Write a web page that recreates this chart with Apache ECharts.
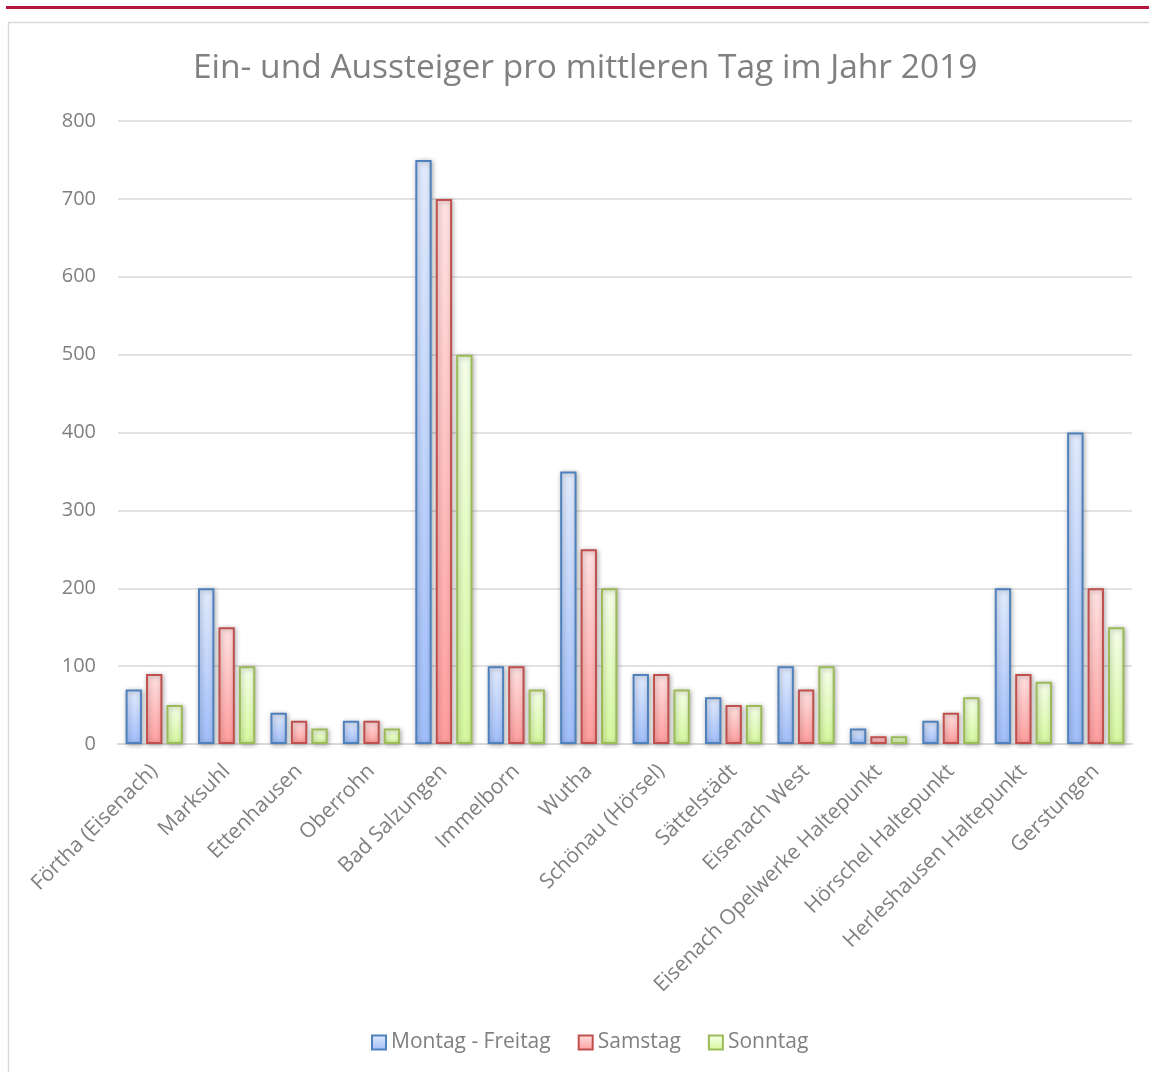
<!DOCTYPE html>
<html><head><meta charset="utf-8">
<script src="https://cdn.jsdelivr.net/npm/echarts@6/dist/echarts.min.js"></script>
<style>html,body{margin:0;padding:0;background:#fff}#c{width:1149px;height:1072px}</style>
</head><body><div id="c"></div>
<script>
const categories = ["Förtha (Eisenach)","Marksuhl","Ettenhausen","Oberrohn","Bad Salzungen","Immelborn","Wutha","Schönau (Hörsel)","Sättelstädt","Eisenach West","Eisenach Opelwerke Haltepunkt","Hörschel Haltepunkt","Herleshausen Haltepunkt","Gerstungen"];
const montagFreitag = [70,200,40,30,750,100,350,90,60,100,20,30,200,400];
const samstag = [90,150,30,30,700,100,250,90,50,70,10,40,90,200];
const sonntag = [50,100,20,20,500,70,200,70,50,100,10,60,80,150];
const seriesNames = ["Montag - Freitag","Samstag","Sonntag"];
const yTicks = [0,100,200,300,400,500,600,700,800];

const FONT = "'Open Sans', 'Noto Sans', sans-serif";
function grad(top, bottom){
  return new echarts.graphic.LinearGradient(0,0,0,1,[{offset:0,color:top},{offset:1,color:bottom}]);
}
const styles = [
  {border:'#4f81bd', top:'#e2ebfd', bottom:'#a0befa'},
  {border:'#c0504d', top:'#ffe2e2', bottom:'#ff9d9d'},
  {border:'#9bbb59', top:'#f5ffe9', bottom:'#d6f89e'}
];
const data = [montagFreitag, samstag, sonntag];
const chart = echarts.init(document.getElementById('c'));
chart.setOption({
  animation:false,
  backgroundColor:'#fff',
  title:{text:'Ein- und Aussteiger pro mittleren Tag im Jahr 2019', left:188, top:46,
    textStyle:{fontFamily:FONT, fontSize:33.5, fontWeight:'normal', color:'#808080'}},
  legend:{bottom:14, left:366, itemWidth:14, itemHeight:14, itemGap:27,
    textStyle:{fontFamily:FONT, fontSize:21, color:'#808080'}, icon:'rect',
    data: seriesNames.map((n,i)=>({name:n, itemStyle:{color:grad(styles[i].top,styles[i].bottom), borderColor:styles[i].border, borderWidth:2}}))},
  grid:{left:118, right:17, top:121, bottom:328},
  xAxis:{type:'category', data:categories,
    axisLine:{lineStyle:{color:'#d9d9d9', width:2}},
    axisTick:{show:false},
    axisLabel:{rotate:45, interval:0, margin:24, fontFamily:FONT, fontSize:21, color:'#808080'}},
  yAxis:{type:'value', min:0, max:800, interval:100,
    axisLine:{show:false}, axisTick:{show:false},
    axisLabel:{margin:22, fontFamily:FONT, fontSize:20, color:'#808080',
      formatter:v=>yTicks.includes(v)?String(v):''},
    splitLine:{lineStyle:{color:'#d9d9d9', width:1.5}}},
  series: seriesNames.map((n,i)=>({
    name:n, type:'bar', data:data[i], barGap:'25%', barCategoryGap:'21%',
    itemStyle:{color:grad(styles[i].top,styles[i].bottom), borderColor:styles[i].border, borderWidth:2,
      shadowColor:'rgba(0,0,0,0.3)', shadowBlur:5, shadowOffsetX:1, shadowOffsetY:1}
  })),
  graphic:[
    {type:'rect', shape:{x:6,y:6,width:1143,height:3}, style:{fill:'#b5173c'}, z:100},
    {type:'rect', shape:{x:8.5,y:22.5,width:1160,height:1070}, style:{fill:null, stroke:'#d9d9d9', lineWidth:1.5}, z:100}
  ]
});
</script></body></html>
